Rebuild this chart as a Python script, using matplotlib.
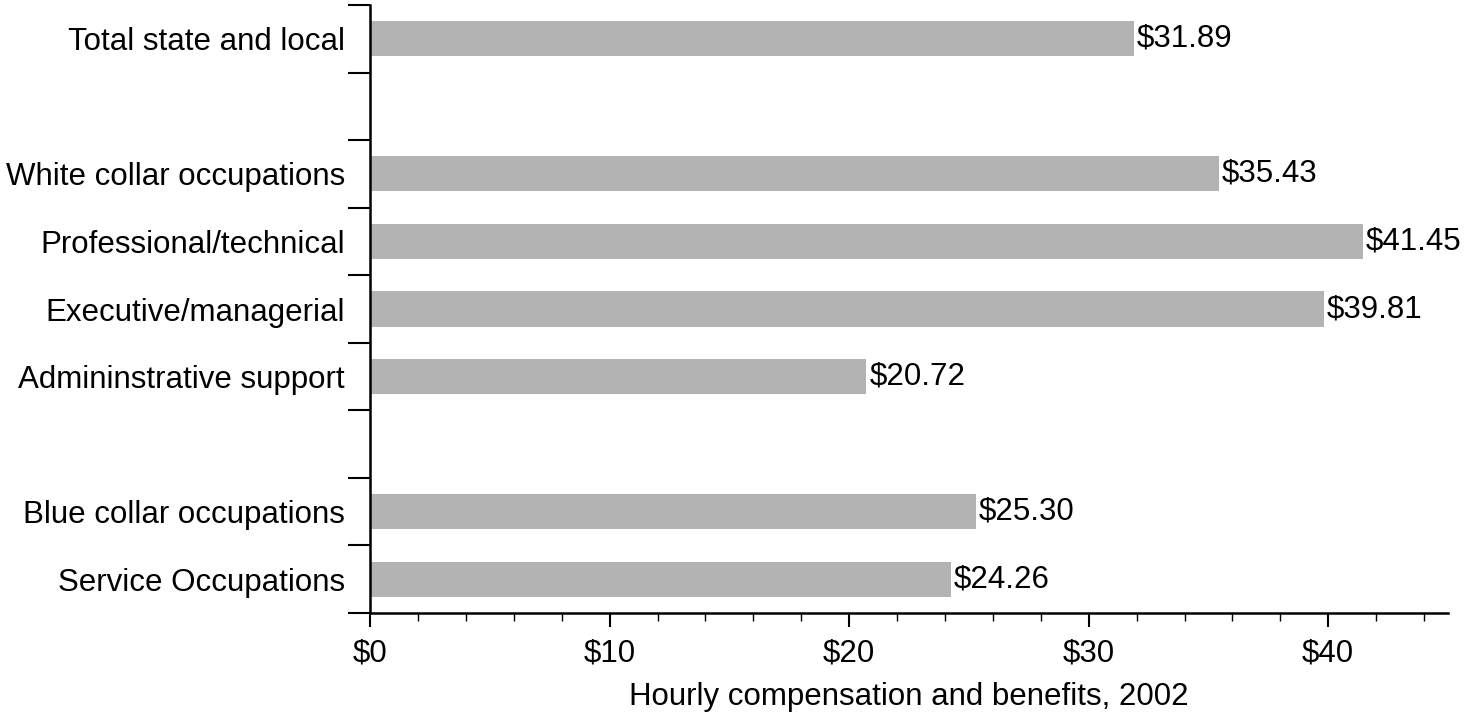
import matplotlib.pyplot as plt
import numpy as np

plt.rcParams['font.family'] = ['Liberation Sans', 'DejaVu Sans']

# slots from top to bottom; empty strings are gaps between groups
categories = ['Total state and local', '', 'White collar occupations',
              'Professional/technical', 'Executive/managerial',
              'Admininstrative support', '', 'Blue collar occupations',
              'Service Occupations']
values = [31.89, None, 35.43, 41.45, 39.81, 20.72, None, 25.30, 24.26]
xticks = [0, 10, 20, 30, 40]
xticklabels = ['$0', '$10', '$20', '$30', '$40']

fs = 22.5

fig = plt.figure(figsize=(14.65, 7.17), dpi=100)
ax = fig.add_axes([0.2526, 0.145, 0.9884 - 0.2526, 0.993 - 0.145])

pos = np.arange(len(categories))
for p, v in zip(pos, values):
    if v is None:
        continue
    ax.barh(p, v, height=0.52, color='#b3b3b3', edgecolor='none')
    ax.text(v + 0.12, p, '$%.2f' % v, va='center', ha='left', fontsize=fs)

ax.set_ylim(len(categories) - 0.5, -0.5)
ax.set_xlim(0, 45)

# category labels centred in each slot, ticks at slot boundaries
ax.set_yticks(np.arange(-0.5, len(categories), 1.0))
ax.set_yticklabels([])
ax.set_yticks(pos, minor=True)
ax.set_yticklabels(categories, minor=True, fontsize=fs)
ax.tick_params(axis='y', which='major', length=16, width=1.5, direction='out')
ax.tick_params(axis='y', which='minor', length=0, pad=18)

ax.set_xticks(xticks)
ax.set_xticklabels(xticklabels, fontsize=fs)
ax.set_xticks(np.arange(0, 45, 2), minor=True)
ax.tick_params(axis='x', which='major', length=10, width=1.5, pad=8)
ax.tick_params(axis='x', which='minor', length=6, width=1.0)

ax.spines['top'].set_visible(False)
ax.spines['right'].set_visible(False)
ax.spines['left'].set_linewidth(1.8)
ax.spines['bottom'].set_linewidth(1.8)

ax.set_xlabel('Hourly compensation and benefits, 2002', fontsize=fs, labelpad=10)

fig.savefig('out.png', dpi=100)
